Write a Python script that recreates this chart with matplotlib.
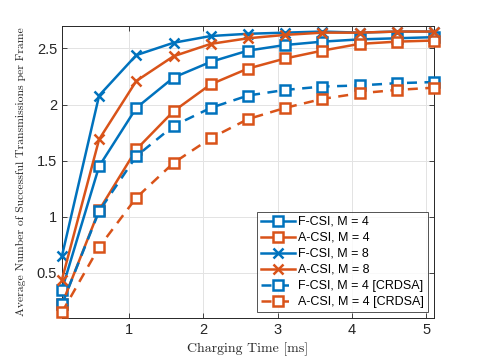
import matplotlib
matplotlib.use("Agg")
import matplotlib.pyplot as plt
import numpy as np

# charging time [ms]
charging_time = [0.1, 0.6, 1.1, 1.6, 2.1, 2.6, 3.1, 3.6, 4.1, 4.6, 5.1]

fcsi_m4 = [0.35, 1.45, 1.97, 2.24, 2.38, 2.48, 2.53, 2.56, 2.58, 2.59, 2.60]
acsi_m4 = [0.22, 1.06, 1.60, 1.94, 2.18, 2.32, 2.41, 2.48, 2.54, 2.56, 2.57]
fcsi_m8 = [0.65, 2.08, 2.44, 2.55, 2.61, 2.63, 2.64, 2.65, 2.64, 2.65, 2.65]
acsi_m8 = [0.44, 1.69, 2.21, 2.43, 2.54, 2.59, 2.62, 2.64, 2.64, 2.65, 2.65]
fcsi_m4_crdsa = [0.22, 1.05, 1.54, 1.81, 1.97, 2.08, 2.13, 2.16, 2.17, 2.19, 2.20]
acsi_m4_crdsa = [0.15, 0.73, 1.17, 1.48, 1.70, 1.87, 1.97, 2.05, 2.10, 2.13, 2.15]

labels = ["F-CSI, M = 4", "A-CSI, M = 4", "F-CSI, M = 8", "A-CSI, M = 8",
          "F-CSI, M = 4 [CRDSA]", "A-CSI, M = 4 [CRDSA]"]

blue = "#0072BD"
orange = "#D95319"

series = [
    (fcsi_m4, blue, "s", "-"),
    (acsi_m4, orange, "s", "-"),
    (fcsi_m8, blue, "x", "-"),
    (acsi_m8, orange, "x", "-"),
    (fcsi_m4_crdsa, blue, "s", "--"),
    (acsi_m4_crdsa, orange, "s", "--"),
]

plt.rcParams["font.family"] = ["Liberation Sans", "DejaVu Sans"]

fig = plt.figure(figsize=(4.8, 3.6), dpi=100)
ax = fig.add_axes([0.129, 0.117, 0.775, 0.811])

for (vals, col, mk, ls), lab in zip(series, labels):
    ax.plot(charging_time, vals, color=col, marker=mk, linestyle=ls,
            linewidth=1.8, markersize=7 if mk == "s" else 7.5,
            markeredgewidth=1.8, markerfacecolor="white" if mk == "s" else col,
            dashes=(4, 3) if ls == "--" else (None, None), label=lab,
            clip_on=False, zorder=3)

ax.set_xlim(0.1, 5.1)
ax.set_ylim(0.1, 2.7)
ax.set_xticks([1, 2, 3, 4, 5])
ax.set_yticks([0.5, 1, 1.5, 2, 2.5])
ax.set_xticklabels(["1", "2", "3", "4", "5"])
ax.set_yticklabels(["0.5", "1", "1.5", "2", "2.5"])
ax.tick_params(direction="in", top=True, right=True, labelsize=10.5,
               color="#262626", labelcolor="#262626", length=3.5, width=0.6)
ax.grid(True, color="#e3e3e3", linewidth=0.7)
ax.set_axisbelow(True)
for s in ax.spines.values():
    s.set_color("#262626")
    s.set_linewidth(0.7)

ax.set_xlabel("Charging Time [ms]", fontfamily="cmr10", fontsize=10,
              color="#262626", labelpad=4)
ax.set_ylabel("Average Number of Successful Transmissions per Frame",
              fontfamily="cmr10", fontsize=8.4, color="#262626", labelpad=8)

leg = ax.legend(loc="lower right", fontsize=9, frameon=True, fancybox=False,
                edgecolor="#262626", handlelength=2.7, handletextpad=0.25,
                labelspacing=0.32, borderpad=0.3, borderaxespad=0.5)
leg.get_frame().set_linewidth(0.7)
leg.set_zorder(5)

fig.savefig("out.png", dpi=100)
